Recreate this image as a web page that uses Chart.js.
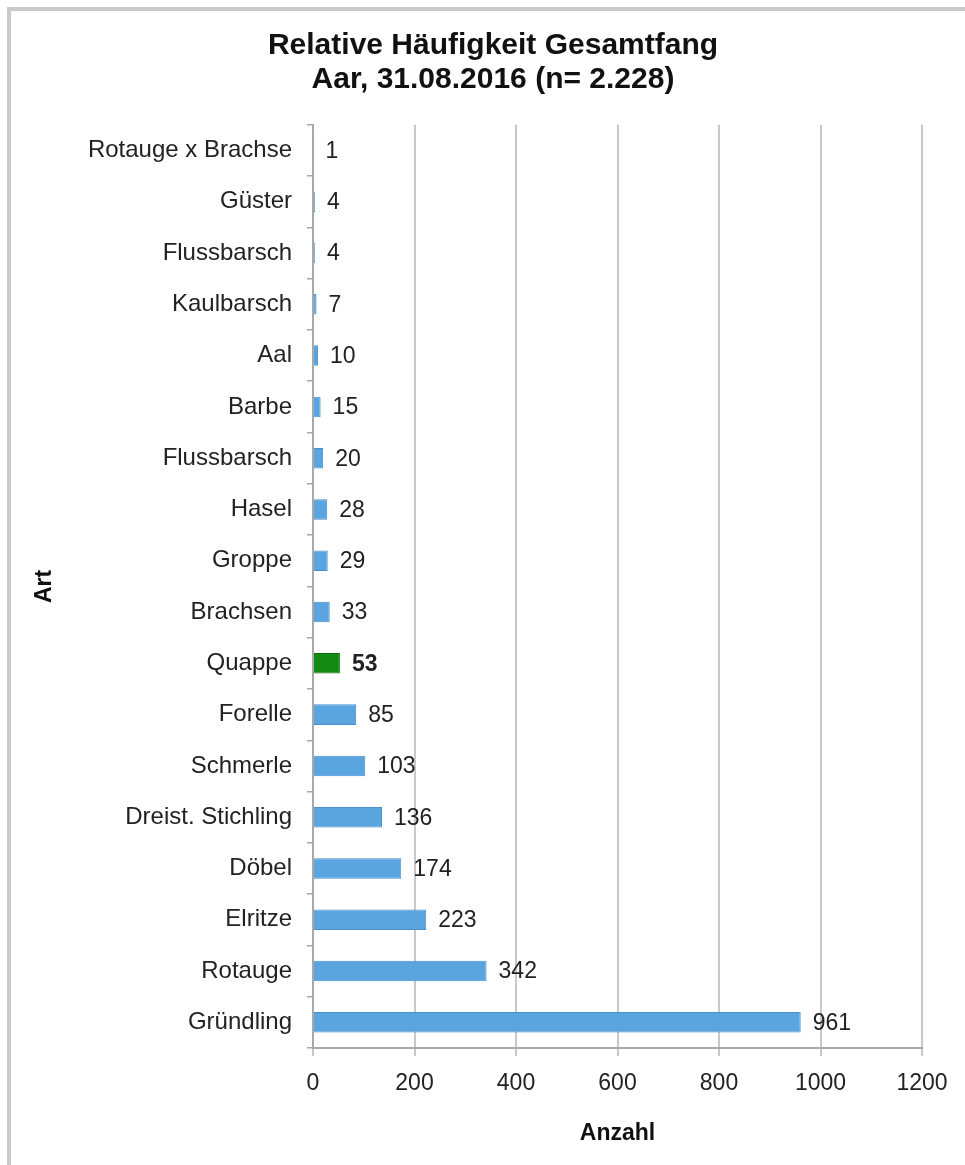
<!DOCTYPE html>
<html>
<head>
<meta charset="utf-8">
<script src="https://cdn.jsdelivr.net/npm/chart.js@4"></script>
<style>
  body { margin: 0; background: #fff; }
  #wrap { position: relative; width: 965px; height: 1165px; }
  #frame {
    position: absolute; left: 7px; top: 7px; right: 0; bottom: 0;
    border-top: 4px solid #c9c9c9; border-left: 4px solid #c9c9c9;
    pointer-events: none;
  }
</style>
</head>
<body>
<div id="wrap">
  <canvas id="barChart" width="965" height="1165"></canvas>
  <div id="frame"></div>
</div>
<script>
const arten = [
  "Rotauge x Brachse", "Güster", "Flussbarsch", "Kaulbarsch", "Aal", "Barbe",
  "Flussbarsch", "Hasel", "Groppe", "Brachsen", "Quappe", "Forelle", "Schmerle",
  "Dreist. Stichling", "Döbel", "Elritze", "Rotauge", "Gründling",
];
const anzahl = [1, 4, 4, 7, 10, 15, 20, 28, 29, 33, 53, 85, 103, 136, 174, 223, 342, 961];
const hervorgehoben = "Quappe";
const titel = ["Relative Häufigkeit Gesamtfang", "Aar, 31.08.2016 (n= 2.228)"];

const blau = "#5aa4df";
const gruen = "#138a13";

// Werte rechts neben die Balken schreiben
const valueLabels = {
  id: "valueLabels",
  afterDatasetsDraw(chart) {
    const ctx = chart.ctx;
    const meta = chart.getDatasetMeta(0);
    ctx.save();
    ctx.fillStyle = "#222";
    ctx.textBaseline = "middle";
    ctx.textAlign = "left";
    meta.data.forEach((bar, i) => {
      const bold = arten[i] === hervorgehoben ? "bold " : "";
      ctx.font = bold + "23px 'Liberation Sans', Arial, sans-serif";
      ctx.fillText(anzahl[i], bar.x + 12, bar.y + 1);
    });
    ctx.restore();
  },
};

const ctx = document.getElementById("barChart").getContext("2d");

const myChart = new Chart(ctx, {
  type: "bar",
  data: {
    labels: arten,
    datasets: [
      {
        label: "Anzahl",
        data: anzahl,
        backgroundColor: arten.map((a) => (a === hervorgehoben ? gruen : blau)),
        borderColor: arten.map((a) => (a === hervorgehoben ? "#0b6e0b" : "#4690d0")),
        borderWidth: 1,
        barPercentage: 0.4,
        categoryPercentage: 1,
      },
    ],
  },
  options: {
    responsive: false,
    animation: false,
    indexAxis: "y",
    layout: {
      padding: { left: 64, right: 43, top: 0, bottom: 18 },
    },
    font: { family: "'Liberation Sans', Arial, sans-serif" },
    scales: {
      x: {
        min: 0,
        max: 1200,
        ticks: {
          stepSize: 200,
          color: "#222",
          padding: 14,
          font: { size: 23 },
          callback: (v) => String(v),
        },
        grid: {
          color: "#c8c8c8",
          lineWidth: 2,
          tickLength: 8,
        },
        border: { color: "#a8a8a8", width: 2 },
        title: {
          display: true,
          text: "Anzahl",
          color: "#111",
          font: { size: 23, weight: "bold" },
          padding: 0,
        },
        afterFit(scale) {
          scale.height = 99;
        },
      },
      y: {
        ticks: {
          color: "#222",
          padding: 15,
          font: { size: 24 },
        },
        grid: {
          offset: true,
          drawOnChartArea: false,
          color: "#a8a8a8",
          lineWidth: 1.5,
          tickLength: 6,
        },
        border: { color: "#a8a8a8", width: 2 },
        title: {
          display: true,
          text: "Art",
          color: "#111",
          font: { size: 23, weight: "bold" },
          padding: { top: -33, bottom: 0 },
        },
        afterFit(scale) {
          scale.width = 313 - 64;
        },
      },
    },
    plugins: {
      legend: { display: false },
      tooltip: { enabled: false },
      title: {
        display: true,
        text: titel,
        color: "#111",
        font: { size: 30, weight: "bold", lineHeight: 1.13 },
        padding: { top: 29, bottom: 28 },
      },
    },
  },
  plugins: [valueLabels],
});
</script>
</body>
</html>
